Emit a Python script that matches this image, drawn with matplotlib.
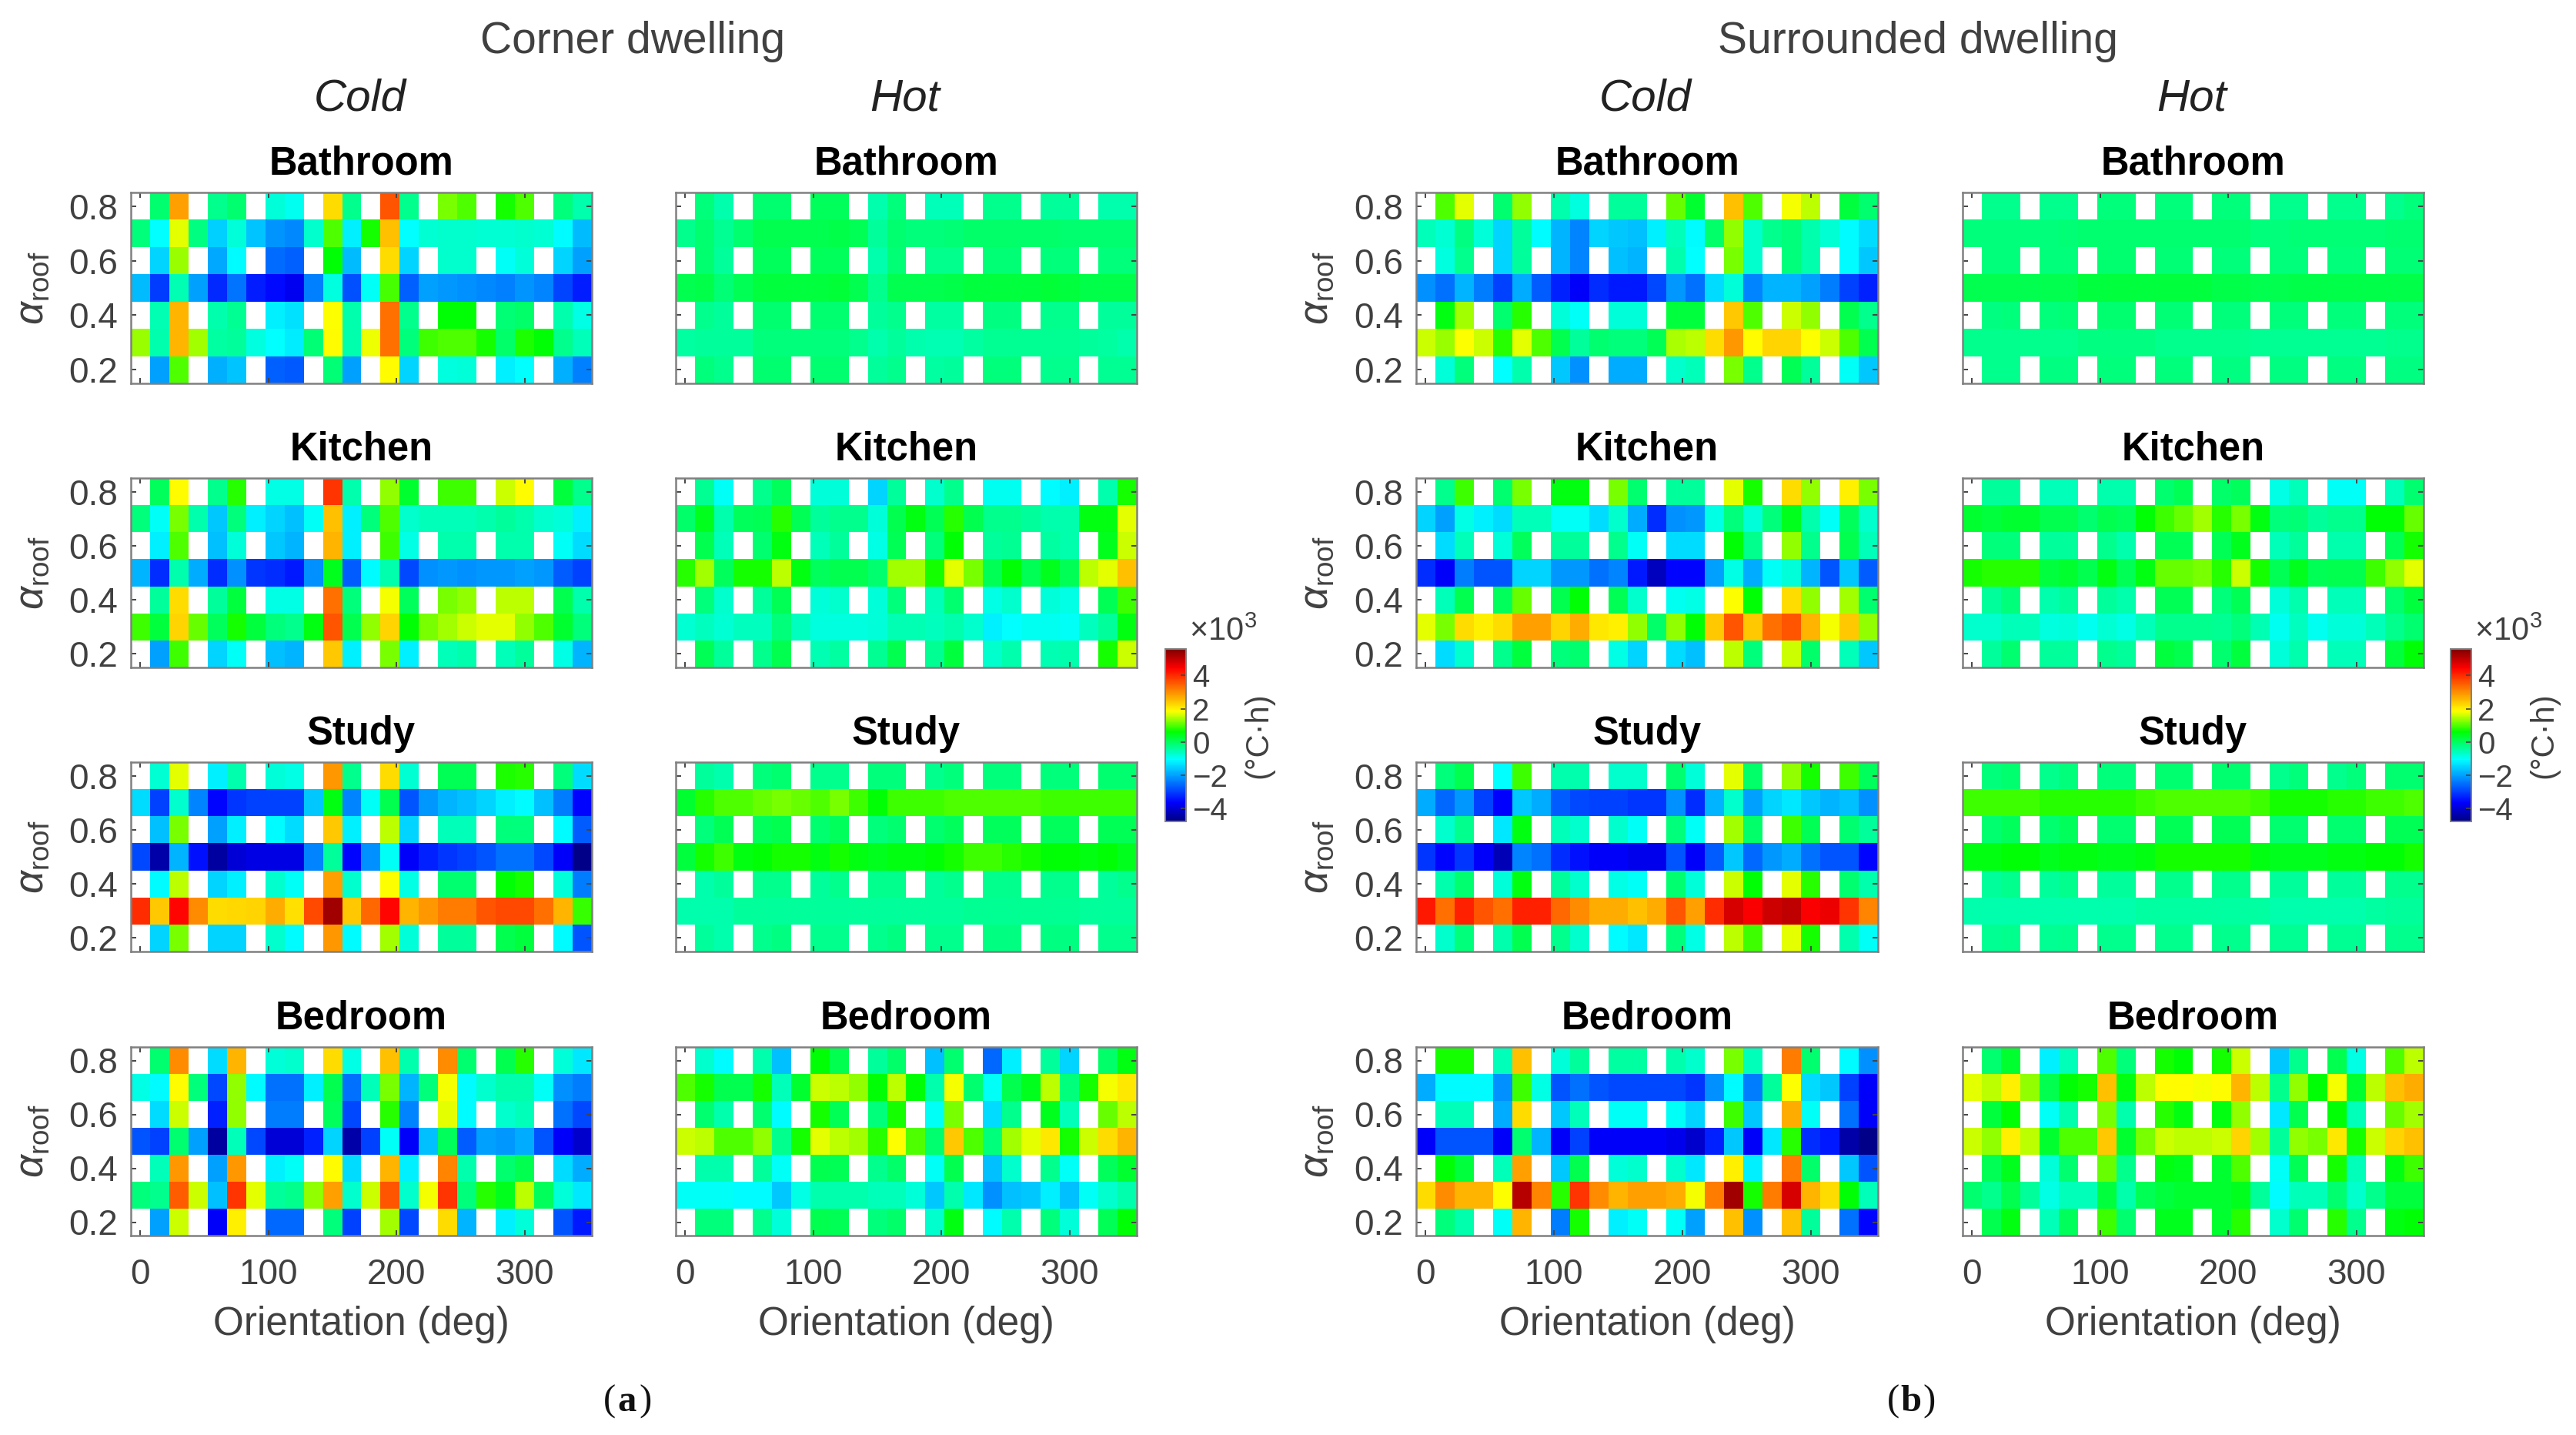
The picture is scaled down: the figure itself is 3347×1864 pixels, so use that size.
# heatmaps of overheating difference vs orientation and roof absorptance
import numpy as np
import matplotlib
matplotlib.use('Agg')
import matplotlib.pyplot as plt
from matplotlib.colors import LinearSegmentedColormap

plt.rcParams['font.family'] = ['Liberation Sans', 'DejaVu Sans']
plt.rcParams['mathtext.fontset'] = 'custom'
plt.rcParams['mathtext.rm'] = 'Liberation Sans'
plt.rcParams['mathtext.it'] = 'Liberation Sans:italic'

n = np.nan

orientation = np.arange(0, 360, 15)
alpha_roof = [0.8, 0.7, 0.6, 0.5, 0.4, 0.3, 0.2]
rooms = ['Bathroom', 'Kitchen', 'Study', 'Bedroom']

# values in 10^3 degC.h, rows go from alpha 0.8 down to 0.2
corner_cold_bathroom = [
    [n,-.1,2.8,n,-.3,-.1,n,-.8,-.95,n,2.2,-.3,n,3.6,-.3,n,1.2,1.0,n,.7,1.0,n,-.2,-.5],
    [-.2,-1.05,1.7,-.25,-1.55,-.8,-1.65,-2.15,-2.25,-.7,1.0,-1.2,.7,2.5,-1.05,-.75,-.7,-.7,-.75,-.75,-.7,-.75,-1.1,-1.75],
    [n,-1.5,1.35,n,-1.95,-1.1,n,-2.55,-2.65,n,.6,-1.75,n,2.2,-1.5,n,-.7,-.7,n,-1.,-.8,n,-1.5,-2.],
    [-1.75,-3.05,-.55,-2.,-3.25,-2.45,-3.35,-3.55,-3.75,-2.35,-.85,-2.85,-1.,.95,-2.65,-2.,-2.1,-2.2,-2.25,-2.35,-2.15,-2.3,-2.95,-3.35],
    [n,-.55,2.6,n,-.5,-.35,n,-1.2,-1.35,n,1.85,-.5,n,3.3,-.3,n,.6,.6,n,-.15,-.05,n,-.5,-.9],
    [1.35,-.5,2.6,1.4,-.45,-.4,-.85,-1.05,-1.25,-.15,1.9,-.5,1.75,3.3,-.2,.9,1.,1.,.7,-.05,.75,.6,-.3,-.6],
    [n,-2.,1.,n,-1.85,-1.65,n,-2.65,-2.75,n,-.15,-2.,n,1.9,-1.5,n,-.85,-.8,n,-1.2,-1.05,n,-1.85,-2.35],
]
corner_hot_bathroom = [
    [n,-.2,-.5,n,-.1,-.1,n,0,0,n,-.5,-.2,n,-.6,-.6,n,-.3,-.3,n,-.4,-.4,n,-.5,-.5],
    [-.3,-.1,-.35,-.1,.1,.1,.1,.1,.15,.05,-.4,-.1,-.2,-.2,-.15,-.05,-.05,-.05,-.05,-.05,-.1,-.1,-.1,-.1],
    [n,-.1,-.4,n,0,0,n,0,0,n,-.5,-.15,n,-.3,-.3,n,-.15,-.15,n,-.2,-.2,n,-.2,-.2],
    [.1,.15,-.15,.05,.2,.2,.2,.2,.25,.1,-.3,.1,.1,.1,.15,.2,.2,.2,.2,.25,.2,.15,.15,.15],
    [n,-.3,-.4,n,-.1,-.1,n,-.1,-.1,n,-.4,-.3,n,-.45,-.45,n,-.25,-.25,n,-.3,-.3,n,-.4,-.4],
    [-.45,-.4,-.4,-.4,-.2,-.2,-.2,-.2,-.2,-.3,-.5,-.4,-.5,-.55,-.55,-.45,-.35,-.35,-.35,-.35,-.35,-.4,-.45,-.5],
    [n,-.2,-.3,n,-.1,-.1,n,-.1,-.1,n,-.4,-.3,n,-.45,-.4,n,-.2,-.2,n,-.3,-.3,n,-.35,-.35],
]
corner_cold_kitchen = [
    [n,0,1.9,n,-.3,.8,n,-.9,-.9,n,3.9,-.5,n,1.3,.3,n,.9,.9,n,1.6,1.9,n,.2,-.3],
    [-.2,-1.,1.2,-.5,-1.6,-.2,-1.2,-1.5,-1.7,-1.,2.5,-1.2,-.2,1.,-.7,-.6,-.6,-.6,-.5,-.4,-.5,-.7,-.8,-1.2],
    [n,-1.2,1.,n,-1.7,-.8,n,-1.6,-1.8,n,2.6,-1.2,n,.9,-.9,n,-.5,-.5,n,-.5,-.5,n,-1.,-1.4],
    [-1.8,-3.2,-.5,-1.9,-3.2,-2.2,-3.1,-3.2,-3.4,-2.2,.4,-2.7,-1.1,-.5,-2.9,-2.2,-2.1,-2.2,-2.1,-2.1,-2.,-2.1,-2.7,-3.],
    [n,-.4,2.2,n,-.4,.2,n,-.9,-.9,n,3.3,-.2,n,1.8,0,n,1.2,1.3,n,1.5,1.5,n,.1,-.5],
    [.9,.2,2.3,1.1,0,.7,.2,-.2,-.3,.5,3.6,.1,1.3,2.3,.6,1.2,1.4,1.6,1.7,1.7,1.3,1.,.3,-.2],
    [n,-2.,.9,n,-1.5,-1.,n,-1.7,-1.8,n,2.4,-1.2,n,1.2,-1.2,n,-.6,-.5,n,-.6,-.4,n,-.9,-1.8],
]
corner_hot_kitchen = [
    [n,-.35,-1.,n,-.3,0,n,-.8,-.8,n,-1.5,-.4,n,-.7,-.3,n,-.95,-.95,n,-1.1,-1.2,n,-.5,.7],
    [-.05,.4,-.5,0,.05,.8,.05,-.4,-.3,-.3,-.8,.1,.5,.05,.8,.1,-.3,-.3,-.4,-.5,-.5,.5,.5,1.7],
    [n,.1,-.6,n,-.1,.5,n,-.6,-.4,n,-.9,.05,n,-.2,.6,n,-.4,-.35,n,-.45,-.5,n,.4,1.6],
    [.8,1.4,0,.7,.7,1.5,.5,0,.1,.1,-.1,1.4,1.4,.7,1.7,1.2,.05,.6,.05,.4,.05,1.5,1.7,2.5],
    [n,-.2,-.7,n,-.4,.05,n,-.8,-.7,n,-.8,-.2,n,-.6,-.1,n,-.9,-.7,n,-.8,-.9,n,.05,.9],
    [-.75,-.65,-.75,-.65,-.65,-.2,-.65,-.85,-.85,-.85,-.8,-.55,-.55,-.65,-.5,-.7,-1.2,-1.05,-.95,-.95,-1.,-.65,-.4,.5],
    [n,.05,-.4,n,-.3,.1,n,-.55,-.45,n,-.35,.1,n,-.35,.2,n,-.7,-.5,n,-.55,-.5,n,.7,1.6],
]
corner_cold_study = [
    [n,-.75,1.7,n,-1.2,-.5,n,-.8,-.9,n,2.9,-.3,n,2.2,-.75,n,.05,.05,n,.75,.8,n,-.2,-1.4],
    [-1.4,-3.,-.7,-2.3,-3.6,-3.1,-3.,-3.,-3.,-1.6,.5,-2.3,-1.,.1,-2.8,-2.1,-1.8,-1.7,-1.5,-1.2,-1.1,-1.7,-2.4,-3.6],
    [n,-1.7,1.2,n,-2.,-1.2,n,-1.1,-1.4,n,2.4,-1.2,n,1.5,-1.5,n,-.6,-.6,n,-.2,-.2,n,-1.1,-2.7],
    [-2.9,-4.4,-1.8,-3.5,-4.5,-4.,-3.9,-3.9,-3.9,-2.3,-.4,-3.6,-2.2,-1.,-3.7,-3.3,-3.1,-3.,-2.8,-2.5,-2.5,-2.9,-3.7,-4.7],
    [n,-1.1,1.5,n,-1.5,-1.2,n,-.7,-1.,n,2.8,-.7,n,1.85,-.9,n,-.1,-.1,n,.6,.7,n,-.8,-2.4],
    [4.,2.4,4.4,3.,2.2,2.25,2.3,2.7,2.15,3.7,5.3,2.4,3.4,4.4,2.6,2.9,3.2,3.2,3.6,3.7,3.7,3.3,2.6,.85],
    [n,-1.5,1.2,n,-1.5,-1.5,n,-.7,-1.1,n,2.9,-1.1,n,1.4,-.8,n,-.4,-.4,n,.1,.2,n,-1.1,-2.8],
]
corner_hot_study = [
    [n,-.4,-.5,n,-.2,-.1,n,-.3,-.3,n,-.2,-.2,n,-.3,-.2,n,-.2,-.2,n,-.2,-.2,n,-.1,-.1],
    [.3,.8,1.,1.,1.1,1.2,1.1,1.,1.2,.9,.6,.9,.9,.9,1.,1.,1.,1.,1.,.9,.9,.9,.9,.9],
    [n,-.2,.05,n,0,.1,n,-.1,0,n,-.2,-.1,n,-.1,0,n,0,0,n,0,0,n,.05,.05],
    [.2,.7,.9,.5,.6,.7,.7,.5,.7,.5,.4,.5,.5,.6,.7,.9,.9,.8,.7,.6,.6,.5,.6,.4],
    [n,-.5,-.4,n,-.3,-.3,n,-.4,-.3,n,-.3,-.3,n,-.4,-.3,n,-.3,-.3,n,-.3,-.3,n,-.4,-.3],
    [-.5,-.5,-.5,-.4,-.4,-.4,-.4,-.4,-.4,-.4,-.4,-.4,-.4,-.4,-.4,-.35,-.35,-.35,-.35,-.35,-.35,-.4,-.4,-.4],
    [n,-.4,-.5,n,-.3,-.25,n,-.3,-.3,n,-.3,-.25,n,-.3,-.3,n,-.25,-.25,n,-.25,-.25,n,-.3,-.3],
]
corner_cold_bedroom = [
    [n,-.1,3.,n,-1.4,2.6,n,-.8,-.7,n,2.2,-.9,n,2.5,-.5,n,3.,-.1,n,.1,.8,n,-.8,-1.3],
    [-.9,-1.1,1.9,-.2,-2.9,1.3,-1.1,-2.5,-2.5,-1.2,.1,-2.5,-.6,1.2,-1.8,-.2,1.8,-1.1,-.7,-.5,-.5,-1.,-2.2,-2.4],
    [n,-1.4,1.6,n,-3.3,1.3,n,-2.4,-2.4,n,0,-2.9,n,.8,-2.3,n,1.7,-1.1,n,-.7,-.6,n,-2.5,-2.9],
    [-2.8,-3.,-.1,-2.,-4.5,-.6,-2.9,-4.,-4.,-3.3,-1.5,-4.4,-3.,-1.,-3.7,-1.7,0,-2.7,-2.,-2.1,-1.9,-2.8,-3.7,-4.1],
    [n,-.6,2.9,n,-2.,2.9,n,-1.2,-1.,n,1.9,-1.4,n,2.6,-1.2,n,3.1,-.5,n,-.1,.1,n,-1.4,-1.9],
    [-.2,-.3,3.5,1.6,-1.7,3.9,1.7,-.4,-.3,1.3,2.8,-.7,1.6,3.6,-.7,1.8,3.9,-.2,.8,.4,1.5,0,-.8,-1.3],
    [n,-2.,1.6,n,-3.7,2.,n,-2.6,-2.6,n,-.2,-3.,n,1.4,-2.9,n,2.2,-1.8,n,-1.2,-.8,n,-2.8,-3.4],
]
corner_hot_bedroom = [
    [n,-.7,-1.1,n,-.5,-1.7,n,.6,.1,n,-.4,-.05,n,-1.7,-.1,n,-2.6,-1.2,n,-.4,-1.5,n,-.05,.5],
    [1.,.7,.1,.1,.7,-.6,.3,1.6,1.5,1.3,.6,1.5,.6,-.5,1.8,-.1,-1.,.1,.4,1.5,-.2,.7,1.8,2.1],
    [n,-.1,-.5,n,-.1,-1.1,n,.7,.05,n,-.2,.7,n,-1.,1.2,n,-1.4,-.3,n,.4,-.6,n,1.1,1.5],
    [1.6,1.5,1.,1.,1.3,-.3,.7,1.7,1.5,1.4,.8,1.85,1.,-.1,2.4,1.,-.2,1.4,1.7,2.1,.7,1.6,2.2,2.6],
    [n,-.5,-.5,n,-.4,-1.,n,.1,.05,n,-.3,-.05,n,-1.,.1,n,-1.7,-.7,n,-.3,-1.,n,0,.3],
    [-1.,-1.,-1.,-1.1,-1.1,-1.6,-.9,-.5,-.5,-.5,-.6,-.6,-.8,-1.6,-.5,-1.3,-2.2,-1.7,-1.6,-1.2,-1.7,-1.,-.7,-.5],
    [n,-.2,-.2,n,-.3,-.8,n,.1,.05,n,-.2,-.05,n,-.7,.5,n,-1.1,-.5,n,-.2,-.8,n,.05,.6],
]
surr_cold_bathroom = [
    [n,1.,1.7,n,-.1,1.3,n,-.5,-.85,n,-.4,-.4,n,1.1,.3,n,2.5,1.,n,1.8,1.5,n,.2,-.1],
    [-.6,-.75,-.25,-.8,-1.5,-.4,-1.1,-1.8,-2.3,-1.5,-1.6,-1.7,-1.2,-.6,-1.1,-.05,1.3,-.7,-.3,-.2,-.5,-.75,-1.1,-1.4],
    [n,-.85,-.3,n,-1.5,-.4,n,-1.8,-2.3,n,-1.7,-1.8,n,-.5,-1.05,n,1.2,-.7,n,-.2,-.5,n,-1.1,-1.6],
    [-2.2,-2.5,-1.8,-2.4,-3.,-1.9,-2.7,-3.3,-3.7,-3.2,-3.4,-3.4,-2.9,-2.1,-2.5,-1.4,-.8,-2.3,-1.8,-1.8,-2.,-2.4,-3.,-3.3],
    [n,.5,1.4,n,-.1,.8,n,-.8,-1.,n,-.8,-.8,n,.2,.2,n,2.4,1.,n,1.6,1.3,n,.1,-.3],
    [1.6,1.35,1.85,1.6,.8,1.7,1.,.1,-.4,-.1,-.2,-.2,.05,1.45,1.5,2.2,2.9,1.9,2.3,2.3,1.85,1.6,1.,.1],
    [n,-.8,-.2,n,-1.05,-.5,n,-1.6,-2.2,n,-1.9,-1.9,n,-.7,-.6,n,1.2,-.3,n,.05,-.4,n,-1.,-1.6],
]
surr_hot_bathroom = [
    [n,-.3,-.3,n,-.3,-.3,n,-.2,-.2,n,-.2,-.2,n,-.2,-.2,n,-.3,-.3,n,-.3,-.3,n,-.3,-.2],
    [-.2,-.2,-.2,-.2,-.2,-.15,-.1,-.1,-.1,-.1,-.1,-.1,-.1,-.1,-.1,-.2,-.2,-.15,-.15,-.15,-.15,-.15,-.1,-.1],
    [n,-.2,-.2,n,-.2,-.2,n,-.1,-.1,n,-.15,-.15,n,-.2,-.2,n,-.2,-.2,n,-.2,-.2,n,-.15,-.15],
    [.1,.1,.1,.1,.1,.1,.2,.2,.2,.2,.2,.2,.2,.15,.15,.1,.1,.15,.15,.15,.15,.15,.15,.15],
    [n,-.25,-.2,n,-.2,-.15,n,-.1,-.1,n,-.15,-.15,n,-.2,-.2,n,-.2,-.2,n,-.2,-.2,n,-.2,-.2],
    [-.3,-.3,-.3,-.3,-.3,-.3,-.25,-.25,-.25,-.25,-.3,-.3,-.3,-.3,-.3,-.35,-.35,-.35,-.35,-.35,-.35,-.35,-.3,-.3],
    [n,-.3,-.3,n,-.25,-.25,n,-.2,-.2,n,-.2,-.2,n,-.25,-.25,n,-.25,-.25,n,-.25,-.25,n,-.25,-.25],
]
surr_cold_kitchen = [
    [n,-.3,.9,n,-.1,1.2,n,.5,.5,n,1.2,-.1,n,-.4,-.4,n,1.7,.7,n,2.2,1.3,n,2.,1.2],
    [-1.5,-2.,-.9,-1.2,-1.4,-.6,-.6,-1.,-1.,-1.4,-.7,-1.9,-3.2,-2.2,-2.1,-.9,-.2,-.8,-.2,.4,-.5,-1.,0,-.7],
    [n,-1.4,-.6,n,-.8,0,n,-.4,-.4,n,-.3,-1.,n,-1.4,-1.4,n,.6,-.3,n,1.3,-.3,n,.1,-.6],
    [-3.2,-3.7,-2.4,-2.8,-2.8,-1.5,-1.5,-2.1,-2.1,-2.5,-2.3,-3.4,-4.2,-3.6,-3.6,-2.,-.9,-1.9,-1.,-.8,-1.8,-2.8,-1.6,-2.7],
    [n,-.6,.1,n,0,1.1,n,.1,.6,n,.05,-.7,n,-.95,-.9,n,1.85,.6,n,2.2,1.3,n,1.4,-.1],
    [1.7,1.2,2.2,2.,2.2,2.8,2.8,2.3,2.7,2.1,2.,1.3,-.05,1.3,.6,2.4,3.6,2.4,3.3,3.6,2.6,1.8,2.4,1.3],
    [n,-1.4,-.7,n,-.3,.2,n,-.2,-.1,n,-.9,-1.5,n,-1.4,-1.7,n,1.5,-.2,n,1.6,-.05,n,-.6,-1.6],
]
surr_hot_kitchen = [
    [n,-.4,-.4,n,-.6,-.6,n,-.5,-.5,n,-.1,.05,n,-.05,0,n,-.9,-.6,n,-1.,-1.,n,-.6,-.1],
    [.3,.2,.3,.3,.1,.1,-.1,.1,0,.6,.9,1.1,1.4,.8,1.2,.5,-.2,-.15,-.4,-.3,-.3,.6,.6,1.1],
    [n,-.2,-.2,n,-.4,-.4,n,-.3,-.5,n,.05,.05,n,.05,.4,n,-.6,-.4,n,-.5,-.5,n,.05,.7],
    [.7,.8,.8,.8,.2,.3,.1,.5,.05,.5,1.1,1.1,1.2,.8,1.6,.7,.05,.4,.05,.1,.1,.9,1.3,1.7],
    [n,-.4,-.2,n,-.5,-.4,n,-.4,-.5,n,.05,.05,n,-.2,.05,n,-.8,-.5,n,-.6,-.6,n,-.1,.2],
    [-.7,-.7,-.6,-.6,-.85,-.8,-.95,-.75,-.9,-.6,-.3,-.3,-.3,-.35,-.2,-.55,-.95,-.65,-.95,-.8,-.8,-.6,-.3,-.1],
    [n,-.4,-.1,n,-.4,-.4,n,-.3,-.4,n,.2,.1,n,-.1,.2,n,-.8,-.5,n,-.6,-.6,n,.2,.6],
]
surr_cold_study = [
    [n,-.2,.1,n,-1.05,.9,n,-.5,-.5,n,-.7,-.7,n,-.1,-.8,n,1.7,-.05,n,1.3,.7,n,.9,0],
    [-1.9,-2.6,-2.1,-3.,-3.65,-1.6,-1.9,-2.7,-2.9,-3.,-3.,-3.1,-3.1,-2.2,-3.2,-1.8,-.7,-2.,-1.5,-1.3,-1.6,-1.8,-1.7,-2.2],
    [n,-.7,-.3,n,-1.3,.5,n,-.6,-.7,n,-.7,-1.,n,-.2,-1.,n,1.4,-.05,n,.9,.05,n,-.1,-.4],
    [-3.1,-3.6,-3.1,-3.7,-4.3,-2.3,-2.5,-3.2,-3.5,-3.7,-3.7,-3.8,-3.8,-2.8,-3.7,-2.7,-1.6,-2.6,-2.1,-1.9,-2.5,-2.8,-2.8,-3.6],
    [n,-.5,-.1,n,-.8,.5,n,-.4,-.7,n,-.9,-1.,n,-.1,-.8,n,1.6,.6,n,1.7,.8,n,-.1,-.5],
    [4.2,3.3,4.1,3.6,3.3,4.1,4.1,3.4,3.,2.7,2.7,2.5,2.7,3.6,2.8,4.,4.8,4.5,4.9,5.,4.5,4.6,3.9,3.1],
    [n,-.7,-.2,n,-.5,.1,n,-.3,-.7,n,-1.1,-1.3,n,-.2,-.9,n,1.5,.9,n,1.7,.7,n,-.5,-1.],
]
surr_hot_study = [
    [n,-.2,-.1,n,-.3,-.2,n,-.2,-.2,n,-.1,-.1,n,-.1,-.1,n,-.3,-.2,n,-.3,-.2,n,-.1,-.1],
    [.9,.9,.9,.9,.8,.8,.8,.8,.8,.9,1.,1.,1.,1.,1.,.9,.7,.7,.7,.8,.8,.9,.9,1.],
    [n,-.1,0,n,-.1,0,n,-.1,-.1,n,.05,.05,n,.05,.05,n,-.1,-.1,n,-.1,-.1,n,.05,.05],
    [.5,.5,.6,.6,.4,.5,.5,.4,.4,.5,.7,.7,.7,.7,.7,.5,.4,.4,.4,.5,.5,.6,.6,.7],
    [n,-.4,-.3,n,-.4,-.3,n,-.4,-.4,n,-.3,-.3,n,-.3,-.3,n,-.4,-.4,n,-.4,-.4,n,-.3,-.3],
    [-.5,-.5,-.5,-.5,-.5,-.5,-.5,-.5,-.5,-.45,-.45,-.45,-.45,-.45,-.45,-.45,-.5,-.5,-.5,-.5,-.5,-.45,-.4,-.4],
    [n,-.35,-.3,n,-.35,-.3,n,-.3,-.3,n,-.3,-.3,n,-.3,-.3,n,-.35,-.35,n,-.35,-.35,n,-.3,-.3],
]
surr_cold_bedroom = [
    [n,.7,.7,n,-.6,2.5,n,-.8,-.4,n,-.45,-.45,n,-.5,-.7,n,1.2,-.6,n,3.2,-.1,n,-1.1,-2.2],
    [-1.9,-1.1,-1.1,-1.1,-2.2,.9,-.9,-2.8,-2.5,-2.8,-2.9,-2.9,-2.9,-2.9,-3.1,-2.2,-1.1,-2.4,-.4,1.85,-1.4,-1.6,-3.,-3.7],
    [n,-.6,-.6,n,-1.9,2.2,n,-1.6,-.6,n,-1.,-1.,n,-1.,-1.5,n,.9,-1.6,n,2.7,-1.,n,-2.5,-3.7],
    [-3.7,-2.8,-2.8,-2.8,-3.7,-.1,-1.8,-3.7,-3.,-3.7,-3.7,-3.7,-3.7,-3.8,-4.1,-3.3,-1.6,-3.7,-1.3,.8,-3.2,-3.4,-4.4,-4.7],
    [n,.6,.2,n,-.6,2.8,n,-1.6,.1,n,-.8,-.7,n,-.7,-1.3,n,2.,-1.2,n,3.2,-.05,n,-1.6,-2.8],
    [2.2,3.,2.6,2.6,1.85,5.1,3.1,.8,3.9,3.,2.6,2.8,2.8,2.7,1.8,3.2,5.3,.7,3.2,4.8,2.6,2.2,.6,-.6],
    [n,-.2,-.5,n,-1.,2.6,n,-2.4,.7,n,-1.2,-1.,n,-1.,-2.,n,2.5,-2.2,n,2.5,-.4,n,-2.5,-3.6],
]
surr_hot_bedroom = [
    [n,-.1,.3,n,-1.2,-.6,n,1.,-.2,n,.7,.6,n,.7,1.6,n,-1.6,-.3,n,.1,-.9,n,1.,1.5],
    [1.7,1.5,2.,1.3,.1,.6,.7,2.5,.5,1.5,1.9,1.9,1.8,1.9,2.6,1.5,-.3,1.3,.6,1.8,.3,1.5,2.5,2.7],
    [n,.2,.6,n,-1.,-.5,n,1.2,-.5,n,.8,.5,n,.5,1.3,n,-1.3,.1,n,.6,-.6,n,1.1,1.4],
    [1.6,1.3,2.,1.5,.3,1.,1.,2.4,.3,1.2,1.6,1.5,1.5,1.6,2.3,1.4,-.4,1.3,1.2,2.1,.7,1.6,2.3,2.5],
    [n,.05,.4,n,-.8,-.1,n,1.1,-.3,n,.5,.4,n,.3,1.,n,-1.,.05,n,.7,-.6,n,.5,.9],
    [-.1,-.3,.1,-.4,-.9,-.6,-.6,.2,-.5,.05,.2,.3,.3,.3,.4,-.4,-1.1,-.6,-.6,-.1,-.7,-.3,.2,.2],
    [n,.1,.5,n,-.6,0,n,.9,-.1,n,.4,.4,n,.3,.8,n,-.7,-.1,n,.8,-.3,n,.5,.6],
]

W, H = 3348, 1864
TXT = '#404040'
AX_COL = '#808080'

cmap = LinearSegmentedColormap.from_list('cbar', [
    (0.0, '#000080'), (0.11, '#0000ff'), (0.36, '#00ffff'), (0.52, '#00ff00'),
    (0.64, '#ffff00'), (0.89, '#ff0000'), (1.0, '#800000')])
cmap.set_bad('white')
VMIN, VMAX = -4.8, 5.6


def px_axes(fig, x0, x1, y0, y1):
    # pixel box, y measured from the top
    return fig.add_axes([x0 / W, 1 - y1 / H, (x1 - x0) / W, (y1 - y0) / H])


def draw_panel(ax, values, title, show_y, show_x):
    z = np.array(values, dtype=float)
    mesh = ax.pcolormesh(orientation, alpha_roof, z, shading='nearest', cmap=cmap,
                         vmin=VMIN, vmax=VMAX, rasterized=True)
    ax.set_xlim(-7.5, 352.5)
    ax.set_ylim(0.15, 0.85)
    ax.set_xticks([0, 100, 200, 300])
    ax.set_yticks([0.2, 0.4, 0.6, 0.8])
    ax.tick_params(direction='in', top=True, right=True, length=5, width=1.4, color='#444444',
                   labelsize=33, labelcolor=TXT, labelleft=show_y, labelbottom=show_x)
    ax.tick_params(axis='x', pad=21)
    ax.tick_params(axis='y', pad=12)
    for s in ax.spines.values():
        s.set_color(AX_COL)
        s.set_linewidth(1.8)
    ax.text(0.5, 1.05, title, transform=ax.transAxes, ha='center', va='bottom',
            fontsize=36.5, fontweight='bold', color='black')
    if show_y:
        ax.text(-0.215, 0.5, r'$\alpha_{\mathrm{roof}}$', transform=ax.transAxes, rotation=90,
                ha='center', va='center', fontsize=38, color=TXT)
    if show_x:
        ax.set_xlabel('Orientation (deg)', fontsize=37, color=TXT, labelpad=13)
    return mesh


fig = plt.figure(figsize=(W / 100, H / 100), dpi=100, facecolor='white')

col_x = [(170, 769), (878, 1477), (1840, 2440), (2550, 3149)]
row_y = [(250, 498), (621, 867), (990, 1236), (1360, 1605)]
grid = [
    [corner_cold_bathroom, corner_hot_bathroom, surr_cold_bathroom, surr_hot_bathroom],
    [corner_cold_kitchen, corner_hot_kitchen, surr_cold_kitchen, surr_hot_kitchen],
    [corner_cold_study, corner_hot_study, surr_cold_study, surr_hot_study],
    [corner_cold_bedroom, corner_hot_bedroom, surr_cold_bedroom, surr_hot_bedroom],
]

mesh = None
for r, room in enumerate(rooms):
    for c in range(4):
        ax = px_axes(fig, col_x[c][0], col_x[c][1], row_y[r][0], row_y[r][1])
        mesh = draw_panel(ax, grid[r][c], room, c in (0, 2), r == 3)

# colorbars
for x0, x1 in [(1514, 1541), (3184, 3211)]:
    cax = px_axes(fig, x0, x1, 843, 1067)
    cb = fig.colorbar(mesh, cax=cax)
    cb.set_ticks([-4, -2, 0, 2, 4])
    cax.tick_params(direction='in', length=5, width=1.2, color='#444444', labelsize=29, labelcolor=TXT, pad=6)
    cb.outline.set_edgecolor(AX_COL)
    cb.outline.set_linewidth(1.4)
    fig.text((x0 + 31) / W, 1 - 841 / H, r'$\times\mathrm{10}^{3}$', fontsize=30, color=TXT, ha='left', va='bottom')
    fig.text((x1 + 94) / W, 1 - 955 / H, '(°C·h)', fontsize=30, color=TXT, rotation=90, ha='center', va='center')

# headers
fig.text(822 / W, 1 - 54 / H, 'Corner dwelling', fontsize=41, color=TXT, ha='center', va='center')
fig.text(2492 / W, 1 - 54 / H, 'Surrounded dwelling', fontsize=41, color=TXT, ha='center', va='center')
for c, label in enumerate(['Cold', 'Hot', 'Cold', 'Hot']):
    xc = sum(col_x[c]) / 2 - 2
    fig.text(xc / W, 1 - 128 / H, label, fontsize=42, style='italic', color='#222222', ha='center', va='center')

# sub-figure letters
for xc, letter in [(815, 'a'), (2483, 'b')]:
    fig.text((xc - 15) / W, 1 - 1821 / H, '(', family='Liberation Serif', fontsize=35, ha='right', va='center', color='#111111')
    fig.text(xc / W, 1 - 1821 / H, letter, family='Liberation Serif', fontweight='bold', fontsize=35, ha='center', va='center', color='#111111')
    fig.text((xc + 15) / W, 1 - 1821 / H, ')', family='Liberation Serif', fontsize=35, ha='left', va='center', color='#111111')

fig.savefig('out.png', dpi=100, facecolor='white')
